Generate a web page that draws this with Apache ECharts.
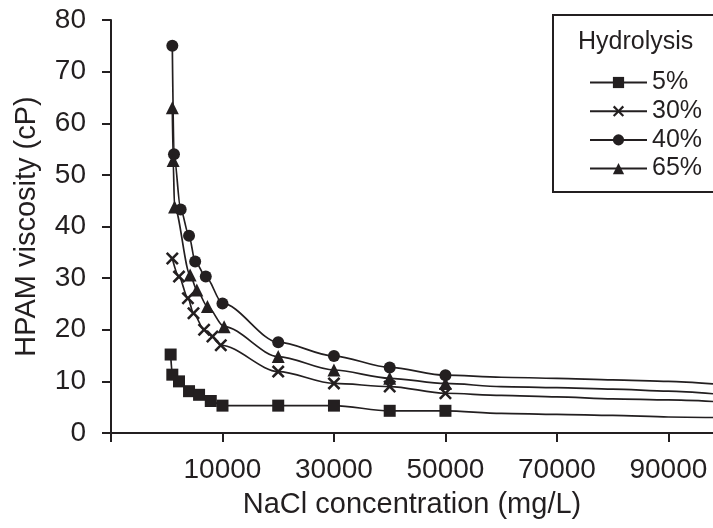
<!DOCTYPE html>
<html>
<head>
<meta charset="utf-8">
<script src="https://cdn.jsdelivr.net/npm/echarts@6/dist/echarts.min.js"></script>
<style>
  html, body { margin: 0; padding: 0; background: #fff; }
  #chart { width: 713px; height: 528px; }
</style>
</head>
<body>
<div id="chart"></div>
<script>
// values (NaCl mg/L -> viscosity cP)
const seriesNames = ['5%', '30%', '40%', '65%']

const x5 = [700, 1000, 2200, 4000, 5800, 7900, 10000, 20000, 30000, 40000, 50000]
const y5 = [15.2, 11.3, 10.0, 8.1, 7.4, 6.2, 5.3, 5.3, 5.3, 4.3, 4.3]

const x30 = [1000, 2200, 3800, 4800, 6700, 8200, 9700, 20000, 30000, 40000, 50000]
const y30 = [33.8, 30.3, 26.1, 23.2, 20.0, 18.7, 17.0, 11.9, 9.6, 9.0, 7.7]

const x40 = [1000, 1300, 2500, 4000, 5100, 7000, 10000, 20000, 30000, 40000, 50000]
const y40 = [75.0, 54.0, 43.3, 38.2, 33.2, 30.3, 25.1, 17.6, 14.9, 12.7, 11.2]

const x65 = [1000, 1150, 1400, 4200, 5400, 7300, 10300, 20000, 30000, 40000, 50000]
const y65 = [63.0, 52.8, 43.8, 30.6, 27.7, 24.5, 20.6, 14.8, 12.2, 10.6, 9.6]

// curve continues past the last measured point, no markers
const xTail = [60000, 70000, 80000, 90000, 98000]
const tail5 = [3.8, 3.6, 3.4, 3.1, 3.0]
const tail30 = [7.3, 7.0, 6.6, 6.4, 6.1]
const tail40 = [10.8, 10.6, 10.3, 10.0, 9.5]
const tail65 = [9.0, 8.8, 8.5, 8.1, 7.6]

const xTicks = [-10000, 10000, 30000, 50000, 70000, 90000]
const xLabels = [10000, 30000, 50000, 70000, 90000]

const ink = '#231f20'
const font = "'Liberation Sans', Arial, Helvetica, sans-serif"
const crossPath = 'path://M0,14L14,0L50,36L86,0L100,14L64,50L100,86L86,100L50,64L14,100L0,86L36,50Z'

function buildData (xs, ys, tail) {
  const pts = xs.map((x, i) => [x, ys[i]])
  const rest = xTail.map((x, i) => ({ value: [x, tail[i]], symbol: 'none' }))
  return pts.concat(rest)
}

function lineSeries (name, data, symbol, size) {
  return {
    name: name,
    type: 'line',
    data: data,
    smooth: 0.3,
    smoothMonotone: 'x',
    symbol: symbol,
    symbolSize: size,
    showSymbol: true,
    lineStyle: { color: ink, width: 1.7 },
    itemStyle: { color: ink },
    emphasis: { disabled: true },
    animation: false
  }
}

const chart = echarts.init(document.getElementById('chart'))
chart.setOption({
  backgroundColor: '#fff',
  textStyle: { fontFamily: font },
  grid: { left: 111, top: 20, right: 0, bottom: 95 },
  xAxis: {
    type: 'value',
    min: -10000,
    max: 98000,
    name: 'NaCl concentration (mg/L)',
    nameLocation: 'middle',
    nameGap: 57,
    nameTextStyle: { fontSize: 29, color: ink, fontFamily: font },
    axisLine: { onZero: false, lineStyle: { color: ink, width: 2 } },
    axisTick: { show: true, inside: false, length: 9, lineStyle: { color: ink, width: 2 }, customValues: xTicks },
    axisLabel: {
      fontSize: 28,
      color: ink,
      margin: 23,
      fontFamily: font,
      customValues: xLabels,
      formatter: function (v) { return String(v) }
    },
    splitLine: { show: false }
  },
  yAxis: {
    type: 'value',
    min: 0,
    max: 80,
    interval: 10,
    name: 'HPAM viscosity (cP)',
    nameLocation: 'middle',
    nameGap: 70,
    nameTextStyle: { fontSize: 29, color: ink, fontFamily: font },
    axisLine: { show: true, onZero: false, lineStyle: { color: ink, width: 2 } },
    axisTick: { show: true, inside: false, length: 9, lineStyle: { color: ink, width: 2 } },
    axisLabel: { fontSize: 28, color: ink, margin: 25, fontFamily: font },
    splitLine: { show: false }
  },
  legend: {
    orient: 'vertical',
    left: 589,
    top: 70,
    padding: 0,
    itemWidth: 57,
    itemHeight: 14,
    itemGap: 3.7,
    data: seriesNames,
    lineStyle: { width: 2 },
    textStyle: { fontSize: 25, color: ink, fontFamily: font },
    selectedMode: false
  },
  graphic: [
    {
      type: 'rect',
      shape: { x: 553, y: 15, width: 170, height: 177 },
      style: { fill: 'none', stroke: ink, lineWidth: 2 }
    },
    {
      type: 'text',
      x: 578,
      y: 42,
      style: { text: 'Hydrolysis', fontSize: 25, fill: ink, fontFamily: font, verticalAlign: 'middle' }
    }
  ],
  series: [
    lineSeries(seriesNames[0], buildData(x5, y5, tail5), 'rect', 12),
    lineSeries(seriesNames[1], buildData(x30, y30, tail30), crossPath, 13),
    lineSeries(seriesNames[2], buildData(x40, y40, tail40), 'circle', 12),
    lineSeries(seriesNames[3], buildData(x65, y65, tail65), 'triangle', 13)
  ]
})
</script>
</body>
</html>
